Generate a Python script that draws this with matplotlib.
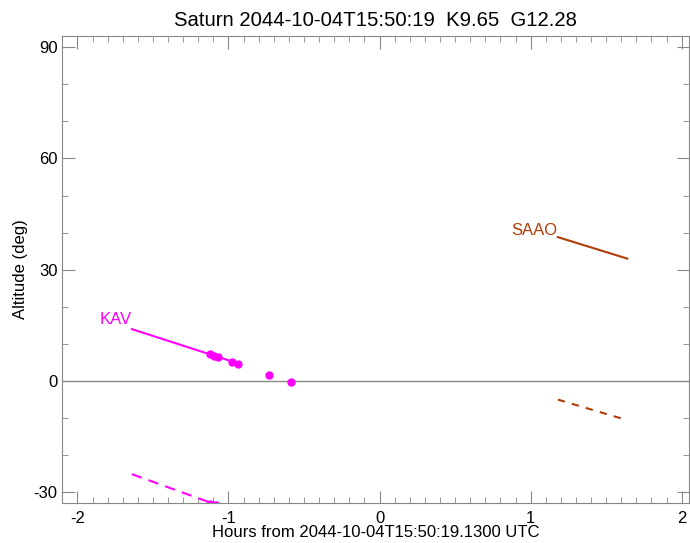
import numpy as np
import matplotlib
matplotlib.use("Agg")
import matplotlib.pyplot as plt

plt.rcParams['font.family'] = ['Liberation Sans', 'DejaVu Sans']
plt.rcParams['axes.unicode_minus'] = False

# Datos
kav_line_h = [-1.64, -0.94]
kav_line_alt = [14.0, 4.8]
kav_dash_h = [-1.64, -1.05]
kav_dash_alt = [-25.1, -33.8]
kav_pts_h = [-1.12, -1.095, -1.07, -0.975, -0.935, -0.73, -0.585]
kav_pts_alt = [7.3, 6.8, 6.5, 5.1, 4.6, 1.6, -0.3]
kav_low_h = [-1.12, -1.10, -1.08]
kav_low_alt = [-33.2, -33.3, -33.4]

saao_line_h = [1.18, 1.64]
saao_line_alt = [38.8, 33.0]
saao_dash_h = [1.18, 1.61]
saao_dash_alt = [-5.0, -10.2]

c_kav = '#ff00ff'
c_saao = '#b03c08'
gris = '#888888'

fig = plt.figure(figsize=(6.9, 5.43), dpi=100)
ax = fig.add_axes([0.0903, 0.0742, 0.9086, 0.8601])

ax.axhline(0, color=gris, lw=1)

# KAV
ax.plot(kav_line_h, kav_line_alt, color=c_kav, lw=1.5)
ax.plot(kav_dash_h, kav_dash_alt, color=c_kav, lw=1.5, ls=(0, (5, 3.5)))
ax.plot(kav_pts_h, kav_pts_alt, 'o', color=c_kav, ms=5)
ax.plot(kav_low_h, kav_low_alt, 'o', color=c_kav, ms=5)
ax.text(kav_line_h[0], kav_line_alt[0] + 0.5, 'KAV', color=c_kav,
        ha='right', va='bottom', fontsize=12)

# SAAO
ax.plot(saao_line_h, saao_line_alt, color=c_saao, lw=1.5)
ax.plot(saao_dash_h, saao_dash_alt, color=c_saao, lw=1.5, ls=(0, (3.5, 3.5)))
ax.text(saao_line_h[0], saao_line_alt[0] - 0.3, 'SAAO', color=c_saao,
        ha='right', va='bottom', fontsize=12)

ax.set_xlim(-2.10, 2.05)
ax.set_ylim(-32.8, 93.1)
ax.set_xticks([-2, -1, 0, 1, 2])
ax.set_xticks(np.arange(-2.1, 2.05, 0.1), minor=True)
ax.set_yticks([-30, 0, 30, 60, 90])
ax.set_yticks(np.arange(-30, 91, 10), minor=True)

for s in ax.spines.values():
    s.set_color(gris)
ax.tick_params(which='both', direction='in', top=True, right=True,
               color=gris, labelsize=12)
ax.tick_params(which='major', length=9)
ax.tick_params(which='minor', length=4.5)
ax.tick_params(axis='x', pad=6)

ax.set_title('Saturn 2044-10-04T15:50:19  K9.65  G12.28', fontsize=14.6, pad=7)
ax.set_xlabel('Hours from 2044-10-04T15:50:19.1300 UTC', fontsize=12, labelpad=-1)
ax.set_ylabel('Altitude (deg)', fontsize=12, labelpad=4)

fig.savefig('out.png', dpi=100)
